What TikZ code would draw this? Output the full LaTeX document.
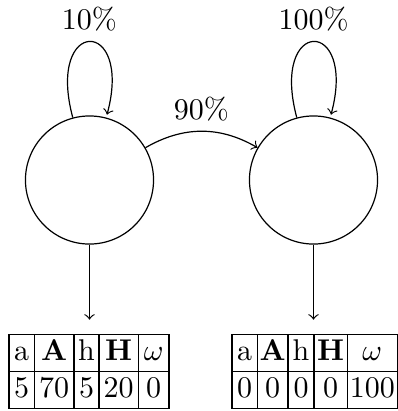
\documentclass[tikz,border=0pt]{standalone}
\begin{document}
\begin{tikzpicture}[x=1pt,y=1pt,
  state/.style={draw, circle, minimum size=42.7pt, inner sep=0pt},
  link/.style={->},
  cellbox/.style={draw, inner sep=0pt, minimum height=12.4pt,
                  text height=8.4pt, text depth=3.6pt}]
\useasboundingbox (0,0) rectangle (132.67,-137);
% the two states
\node[state] (s1) at (29.83,-60) {};
\node[state] (s2) at (104.5,-60) {};
% distribution table under the first state
\foreach \cx/\w/\hd/\val [count=\i] in
  {7.215/8.43/a/5, 18.05/13.24/{\textbf{A}}/70, 28.835/8.33/h/5,
   39.55/13.1/{\textbf{H}}/20, 51.22/10.23/{$\omega$}/0}{
  \node[cellbox, minimum width=\w pt] (t1h\i) at (\cx,-117.65) {\hd};
  \node[cellbox, minimum width=\w pt] (t1v\i) at (\cx,-130.05) {\val};
}
% distribution table under the second state
\foreach \cx/\w/\hd/\val [count=\i] in
  {81.55/8.44/a/0, 90.885/10.23/{\textbf{A}}/0, 100.335/8.67/h/0,
   110.22/11.1/{\textbf{H}}/0, 124.1/16.66/{$\omega$}/100}{
  \node[cellbox, minimum width=\w pt] (t2h\i) at (\cx,-117.65) {\hd};
  \node[cellbox, minimum width=\w pt] (t2v\i) at (\cx,-130.05) {\val};
}
% transitions
\path (s1) edge[link, loop above] node[above] {10\%} ();
\path (s2) edge[link, loop above] node[above] {100\%} ();
\draw[link] (s1) to[bend left=30] node[above] {90\%} (s2);
% state to table
\draw[link, shorten >=4.7pt] (s1) -- (s1 |- t1h3.north);
\draw[link, shorten >=4.7pt] (s2) -- (s2 |- t2h4.north);
\end{tikzpicture}
\end{document}
